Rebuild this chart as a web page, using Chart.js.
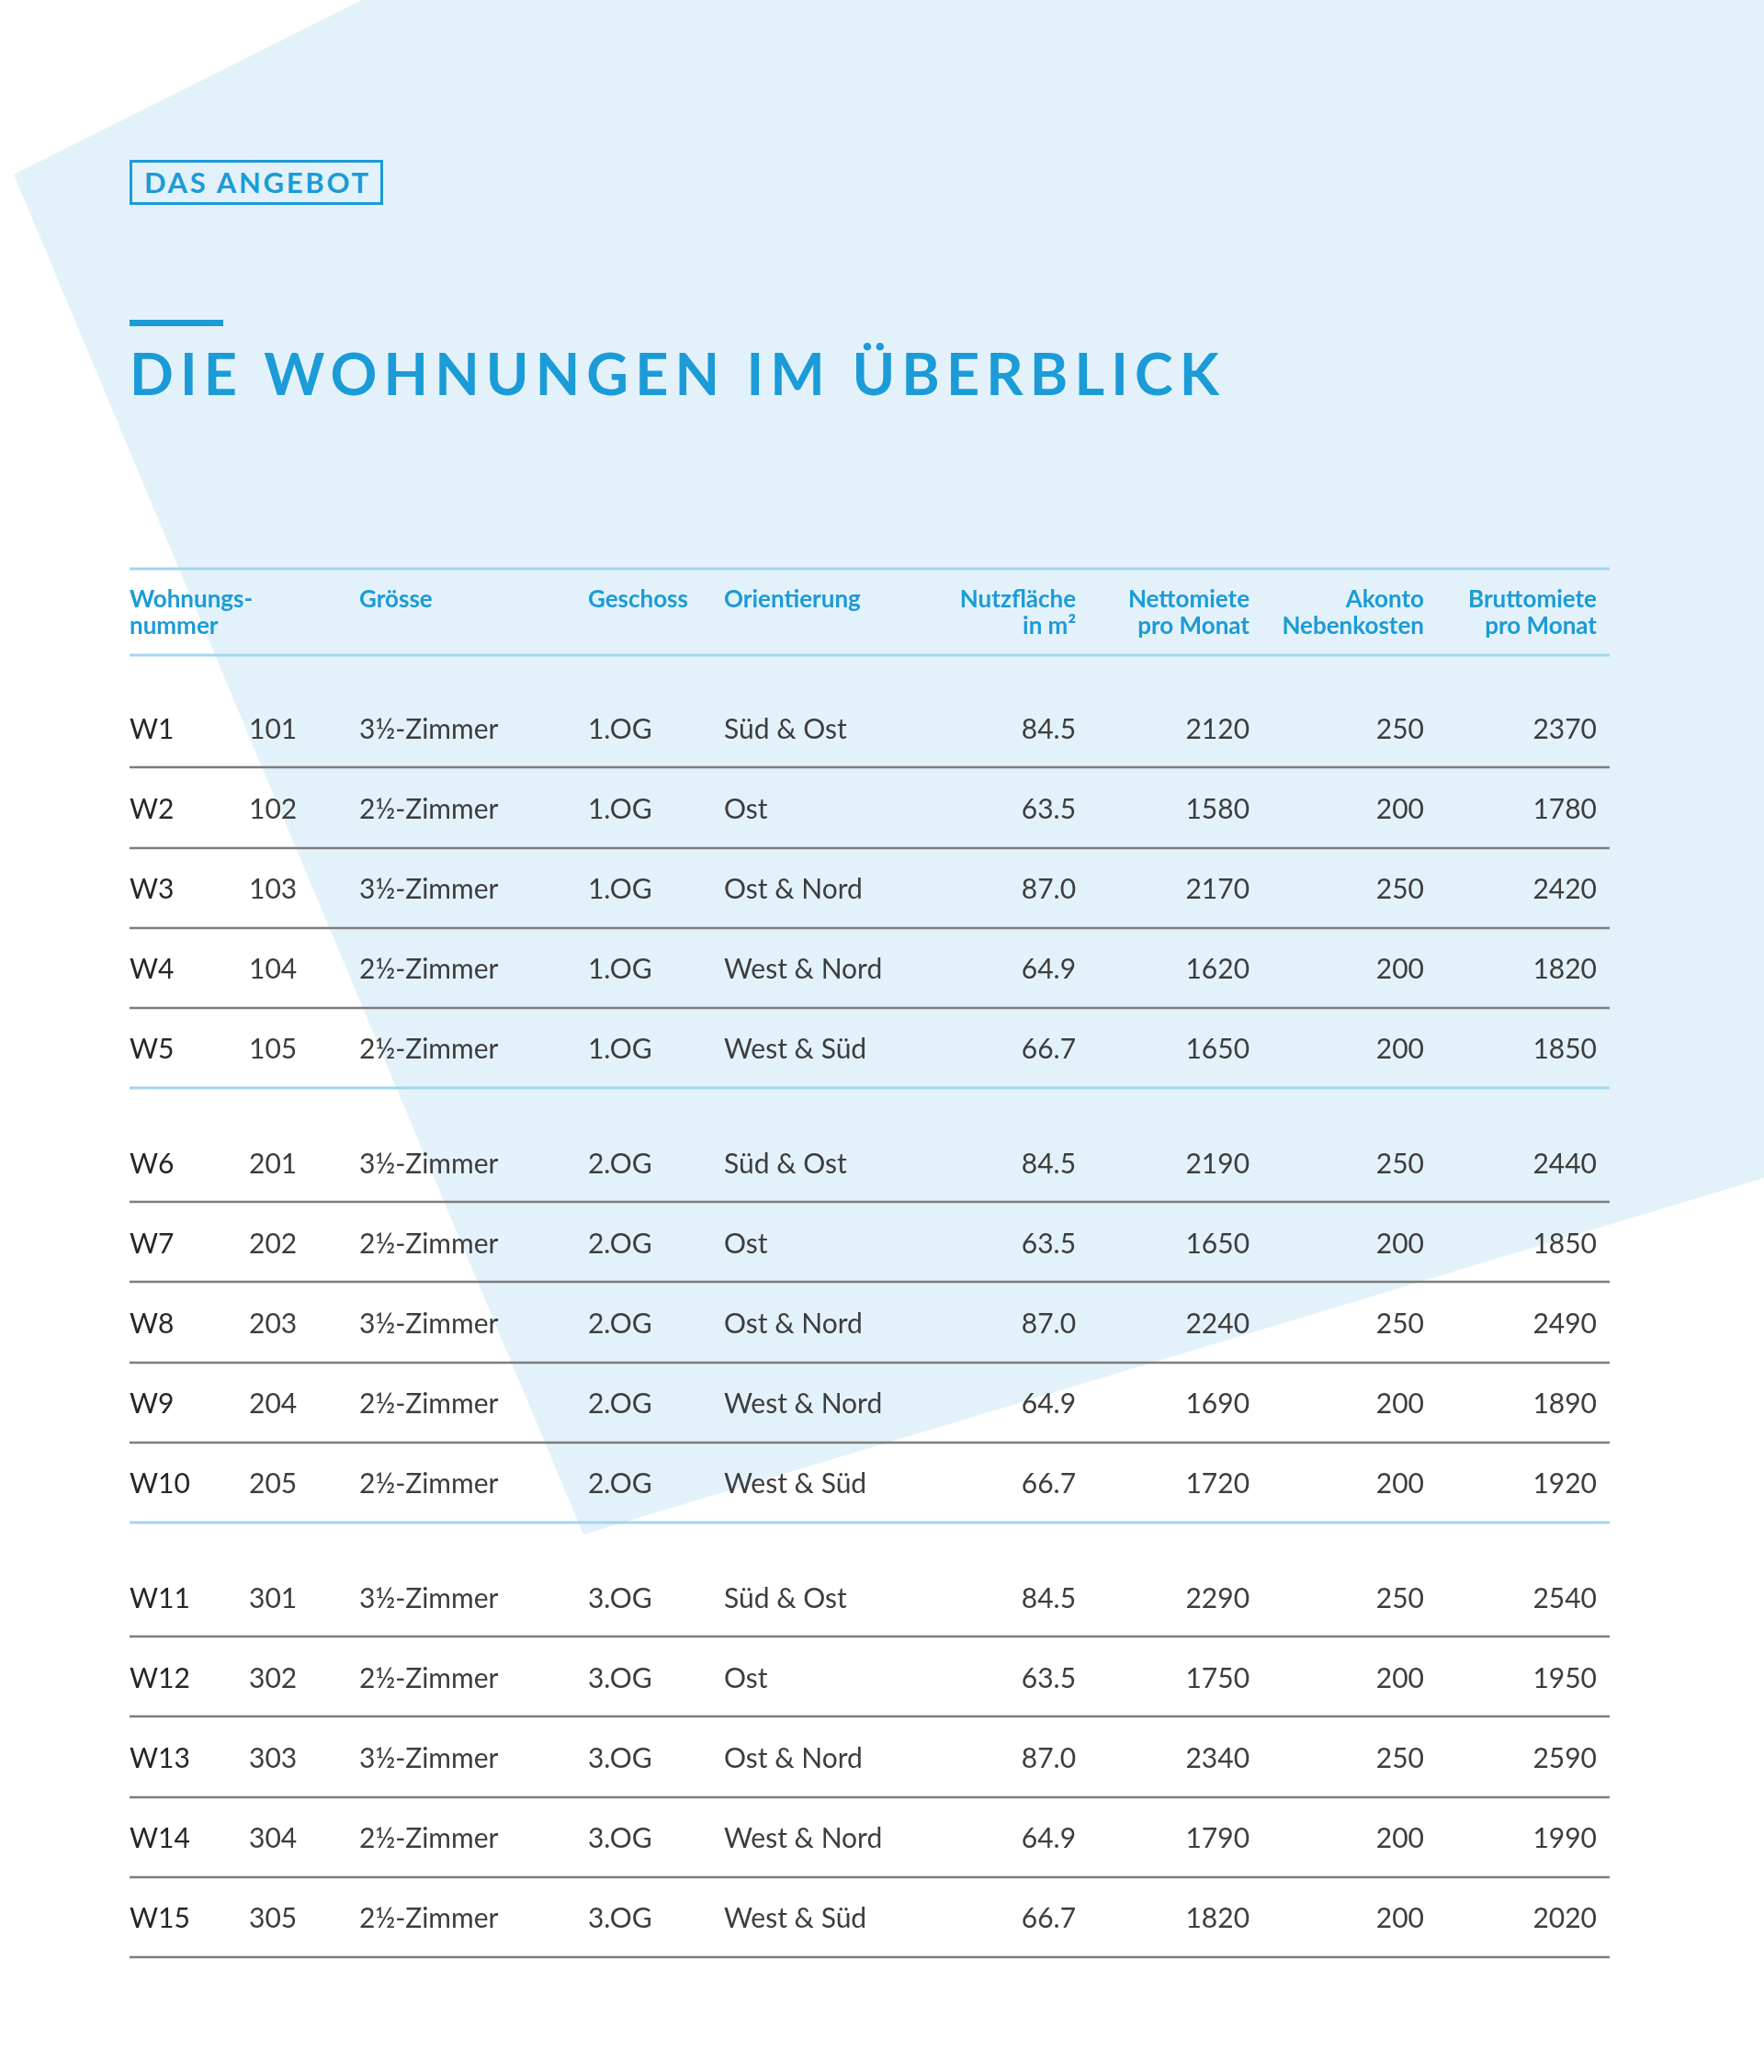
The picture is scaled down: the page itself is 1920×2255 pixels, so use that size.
<!DOCTYPE html>
<html lang="de">
<head>
<meta charset="utf-8">
<title>Die Wohnungen im Überblick</title>
<script src="https://cdn.jsdelivr.net/npm/chart.js@4.4.1/dist/chart.umd.min.js"></script>
<style>
  html, body { margin: 0; padding: 0; background: #fff; }
  body { width: 1920px; height: 2255px; position: relative; overflow: hidden; font-family: Lato, "Open Sans", sans-serif; }
  #shape {
    position: absolute; left: 0; top: 0; width: 1920px; height: 2255px;
    background: #e3f2fa;
    clip-path: polygon(394px 0, 1920px 0, 1920px 1282px, 635px 1670px, 15px 190px);
  }
  #tag {
    position: absolute; left: 141px; top: 174px; width: 270px; height: 43px;
    border: 3px solid #1b9bd7;
    color: #1b9bd7; font-weight: 700; font-size: 31px; line-height: 43px;
    text-align: center; white-space: nowrap;
  }
  #bar { position: absolute; left: 141px; top: 348px; width: 102px; height: 7px; background: #1b9bd7; }
  #title {
    position: absolute; left: 141px; top: 374px; margin: 0;
    color: #1b9bd7; font-weight: 700; font-size: 63px; line-height: 63px; white-space: nowrap;
  }
  #table { position: absolute; left: 0; top: 0; }
</style>
</head>
<body>
<div id="shape"></div>
<div id="tag"><span>DAS ANGEBOT</span></div>
<div id="bar"></div>
<h1 id="title"><span>DIE WOHNUNGEN IM ÜBERBLICK</span></h1>
<canvas id="table" width="1920" height="2255"></canvas>
<script>
// table contents
const units = ['W1', 'W2', 'W3', 'W4', 'W5', 'W6', 'W7', 'W8', 'W9', 'W10', 'W11', 'W12', 'W13', 'W14', 'W15'];
const unitNumbers = [101, 102, 103, 104, 105, 201, 202, 203, 204, 205, 301, 302, 303, 304, 305];
const sizes = ['3½-Zimmer', '2½-Zimmer', '3½-Zimmer', '2½-Zimmer', '2½-Zimmer',
               '3½-Zimmer', '2½-Zimmer', '3½-Zimmer', '2½-Zimmer', '2½-Zimmer',
               '3½-Zimmer', '2½-Zimmer', '3½-Zimmer', '2½-Zimmer', '2½-Zimmer'];
const floors = ['1.OG', '1.OG', '1.OG', '1.OG', '1.OG', '2.OG', '2.OG', '2.OG', '2.OG', '2.OG', '3.OG', '3.OG', '3.OG', '3.OG', '3.OG'];
const orientations = ['Süd & Ost', 'Ost', 'Ost & Nord', 'West & Nord', 'West & Süd',
                      'Süd & Ost', 'Ost', 'Ost & Nord', 'West & Nord', 'West & Süd',
                      'Süd & Ost', 'Ost', 'Ost & Nord', 'West & Nord', 'West & Süd'];
const areas = [84.5, 63.5, 87.0, 64.9, 66.7, 84.5, 63.5, 87.0, 64.9, 66.7, 84.5, 63.5, 87.0, 64.9, 66.7];
const netRent = [2120, 1580, 2170, 1620, 1650, 2190, 1650, 2240, 1690, 1720, 2290, 1750, 2340, 1790, 1820];
const extraCosts = [250, 200, 250, 200, 200, 250, 200, 250, 200, 200, 250, 200, 250, 200, 200];
const grossRent = [2370, 1780, 2420, 1820, 1850, 2440, 1850, 2490, 1890, 1920, 2540, 1950, 2590, 1990, 2020];
const headers = [['Wohnungs-', 'nummer'], ['Grösse'], ['Geschoss'], ['Orientierung'],
                 ['Nutzfläche', 'in m²'], ['Nettomiete', 'pro Monat'], ['Akonto', 'Nebenkosten'], ['Bruttomiete', 'pro Monat']];

// layout: column anchors as fractions of table width, extra space between floor groups
const colAnchor = [0, 0.0807, 0.1552, 0.3097, 0.4016, 0.6394, 0.7567, 0.8746, 0.9913];
const colAlign = ['left', 'left', 'left', 'left', 'left', 'right', 'right', 'right', 'right'];
const headerCol = [0, 2, 3, 4, 5, 6, 7, 8];
const groupGap = 0.43;

const BLUE = '#1b9bd7';
const LINE_BLUE = '#a3d5ef';
const LINE_GRAY = '#7d7d7d';

// fit the letter spacing of the headings to the reference widths
function fitSpacing(el, target) {
    const span = el.querySelector('span');
    const n = span.textContent.length;
    const w = span.getBoundingClientRect().width;
    span.style.letterSpacing = ((target - w) / (n - 1)) + 'px';
    span.style.marginRight = (-(target - w) / (n - 1)) + 'px';
}
fitSpacing(document.getElementById('tag'), 244);
fitSpacing(document.getElementById('title'), 1186);

const groupOf = floors.map(f => parseInt(f, 10) - 1);
const rowPos = units.map((u, i) => i + groupOf[i] * groupGap);

const columns = [
    units,
    unitNumbers.map(String),
    sizes,
    floors,
    orientations,
    areas.map(a => a.toFixed(1)),
    netRent.map(String),
    extraCosts.map(String),
    grossRent.map(String)
];

const datasets = columns.map((texts, c) => ({
    label: 'col' + c,
    texts: texts,
    data: texts.map((t, i) => ({ x: colAnchor[c], y: rowPos[i] })),
    pointRadius: 0,
    pointHoverRadius: 0
}));

const tablePlugin = {
    id: 'tableCells',
    afterDatasetsDraw(chart) {
        const ctx = chart.ctx;
        const xs = chart.scales.x;
        const ys = chart.scales.y;
        const left = chart.chartArea.left;
        const right = chart.chartArea.right;

        function hline(v, color, width) {
            const py = Math.round(ys.getPixelForValue(v));
            ctx.beginPath();
            ctx.strokeStyle = color;
            ctx.lineWidth = width;
            ctx.moveTo(left, py);
            ctx.lineTo(right, py);
            ctx.stroke();
        }

        ctx.save();
        // header rules
        hline(-2, LINE_BLUE, 3);
        hline(-0.92, LINE_BLUE, 3);
        // row rules
        rowPos.forEach((v, i) => {
            const last = i === rowPos.length - 1;
            const groupEnd = !last && groupOf[i + 1] !== groupOf[i];
            hline(v + 0.485, groupEnd ? LINE_BLUE : LINE_GRAY, groupEnd ? 3 : 2.5);
        });

        // header labels
        ctx.font = '700 26px Lato';
        ctx.fillStyle = BLUE;
        ctx.textBaseline = 'alphabetic';
        const headerY = [-1.62, -1.29];
        headers.forEach((lines, h) => {
            const c = headerCol[h];
            ctx.textAlign = colAlign[c];
            const px = xs.getPixelForValue(colAnchor[c]);
            lines.forEach((t, k) => {
                ctx.fillText(t, px, ys.getPixelForValue(headerY[k]) + 9);
            });
        });

        // cells from dataset elements
        ctx.font = '400 30px Lato';
        chart.data.datasets.forEach((ds, c) => {
            const meta = chart.getDatasetMeta(c);
            ctx.textAlign = colAlign[c];
            ctx.fillStyle = c === 0 ? '#262626' : '#3d3d3d';
            meta.data.forEach((pt, i) => {
                ctx.fillText(ds.texts[i], pt.x, pt.y + 10.5);
            });
        });
        ctx.restore();
    }
};

new Chart(document.getElementById('table'), {
    type: 'scatter',
    data: { datasets: datasets },
    options: {
        responsive: false,
        animation: false,
        devicePixelRatio: 1,
        layout: { padding: { left: 141, right: 168, top: 619, bottom: 124 } },
        plugins: { legend: { display: false }, tooltip: { enabled: false } },
        events: [],
        scales: {
            x: { type: 'linear', min: 0, max: 1, display: false },
            y: { type: 'linear', min: -2, max: 15.36, reverse: true, display: false }
        }
    },
    plugins: [tablePlugin]
});
</script>
</body>
</html>
